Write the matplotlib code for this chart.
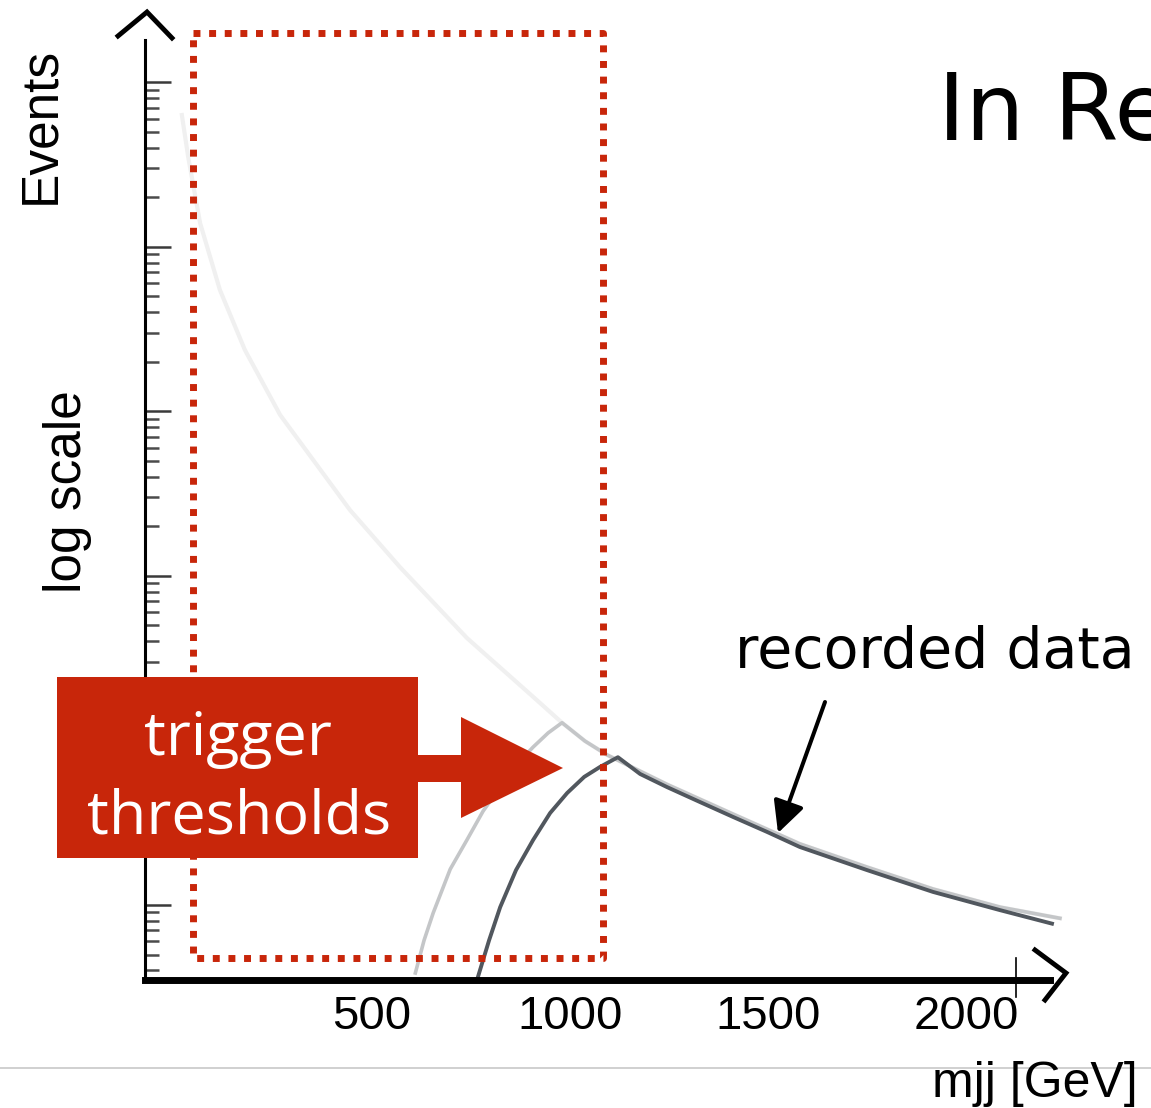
import numpy as np
import matplotlib
matplotlib.use("Agg")
import matplotlib.pyplot as plt
from matplotlib.patches import Polygon
from matplotlib.ticker import LogLocator, NullFormatter

# full dijet mass spectrum, before any trigger
spectrum_mjj = [21, 37, 67, 117, 180, 269, 445, 571, 740, 907, 980, 1038,
                1094, 1177, 1245, 1411, 1580, 1749, 1916, 2085, 2236]
spectrum_events = [63000, 35000, 13900, 5450, 2355, 948, 251, 113, 41.9, 18.4,
                   12.8, 9.9, 8.15, 6.5, 5.4, 3.57, 2.35, 1.70, 1.25, 0.97, 0.83]

# spectrum seen with the lower trigger threshold
low_trig_mjj = [610, 632, 655, 698, 740, 781, 824, 867, 907, 945, 980, 1038,
                1094, 1177, 1245, 1411, 1580, 1749, 1916, 2085, 2236]
low_trig_events = [0.386, 0.61, 0.894, 1.65, 2.48, 3.72, 5.2, 7.19, 9.1, 11.1,
                   12.8, 9.9, 8.15, 6.5, 5.4, 3.57, 2.35, 1.70, 1.25, 0.97, 0.83]

# recorded data (higher trigger threshold)
rec_mjj = [768, 796, 824, 864, 907, 950, 993, 1036, 1076, 1121, 1177, 1245,
           1328, 1411, 1497, 1580, 1749, 1916, 2085, 2216]
rec_events = [0.366, 0.61, 0.97, 1.63, 2.48, 3.62, 4.79, 6.0, 6.9, 7.9, 6.25,
              5.2, 4.22, 3.43, 2.78, 2.25, 1.63, 1.20, 0.93, 0.77]

mass_ticks = [500, 1000, 1500, 2000]
mass_labels = ["500", "1000", "1500", "2000"]

W, H = 1151, 1108
red = "#c8260a"

plt.rcParams["font.family"] = "Liberation Sans"
fig = plt.figure(figsize=(W / 100, H / 100), dpi=100, facecolor="white")

# main plot, placed in pixel units
ax = fig.add_axes([145 / W, (H - 980) / H, 905 / W, 940 / H])
ax.set_yscale("log")
ax.set_xlim(-72, 2211)
ax.set_ylim(0.35, 1.8e5)

ax.plot(spectrum_mjj, spectrum_events, color="#f0f0f0", lw=3, clip_on=False)
ax.plot(low_trig_mjj, low_trig_events, color="#c4c6c8", lw=2.6, clip_on=False)
ax.plot(rec_mjj, rec_events, color="#51575e", lw=2.8, clip_on=False)

for s in ["top", "right"]:
    ax.spines[s].set_visible(False)
ax.spines["left"].set_linewidth(2.2)
ax.spines["bottom"].set_linewidth(5)

ax.set_xticks(mass_ticks, mass_labels)
ax.tick_params(axis="x", length=0, pad=11, labelsize=34)
ax.yaxis.set_major_locator(LogLocator(base=10, numticks=12))
ax.yaxis.set_minor_locator(LogLocator(base=10, subs=np.arange(2, 10), numticks=12))
ax.yaxis.set_minor_formatter(NullFormatter())
ax.tick_params(axis="y", which="both", direction="in", labelleft=False)
ax.tick_params(axis="y", which="major", length=19, width=1.8, color="#3a3a3a")
ax.tick_params(axis="y", which="minor", length=10, width=1.8, color="#4a4a4a")

# overlay in pixel coordinates for the slide annotations
ov = fig.add_axes([0, 0, 1, 1])
ov.set_xlim(0, W)
ov.set_ylim(H, 0)
ov.set_axis_off()

# axis arrow heads and the end tick
ov.plot([118, 147, 172], [36, 12, 38], color="k", lw=3.5, solid_joinstyle="miter")
ov.plot([1035, 1066, 1045], [950, 973, 1000], color="k", lw=3.5, solid_joinstyle="miter")
ov.plot([1016, 1016], [958, 997], color="k", lw=1.2)

ov.plot([0, W], [1068, 1068], color="#c8c8c8", lw=1.2)

# trigger region
ov.plot([193, 603, 603, 193, 193], [33, 33, 958, 958, 33], color=red, lw=5,
        linestyle=(0, (1, 1.25)), dash_capstyle="butt")

arrow_box = [(57, 677), (418, 677), (418, 755), (461, 755), (461, 717),
             (563, 768), (461, 818), (461, 782), (418, 782), (418, 858),
             (57, 858)]
ov.add_patch(Polygon(arrow_box, closed=True, facecolor=red, edgecolor="none"))
ov.text(238, 755, "trigger", fontsize=44, family="Open Sans", color="white",
        ha="center", va="baseline")
ov.text(239, 833, "thresholds", fontsize=44, family="Open Sans", color="white",
        ha="center", va="baseline")

ov.text(935, 668, "recorded data", fontsize=41, family="DejaVu Sans",
        ha="center", va="baseline")
ov.annotate("", xy=(778, 833), xytext=(825, 702),
            arrowprops=dict(arrowstyle="-|>,head_length=0.4,head_width=0.2",
                            lw=2.9, color="k", mutation_scale=48,
                            shrinkA=0, shrinkB=0))

ov.text(938, 140, "In Re", fontsize=67, family="DejaVu Sans", ha="left",
        va="baseline")

ov.text(54, 125, "Events", fontsize=37, rotation=90, rotation_mode="anchor",
        ha="center", va="baseline")
ov.text(81, 492, "log scale", fontsize=37, rotation=90, rotation_mode="anchor",
        ha="center", va="baseline")
ov.text(1138, 1097, "mjj [GeV]", fontsize=36, ha="right", va="baseline")

fig.savefig("out.png", dpi=100, facecolor="white")
